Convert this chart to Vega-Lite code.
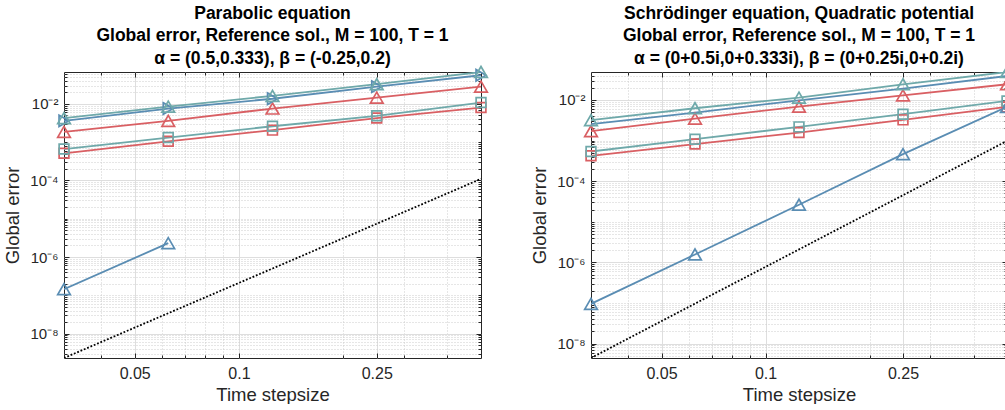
{
  "$schema": "https://vega.github.io/schema/vega-lite/v6.json",
  "padding": {"left": 2, "top": 4, "right": 0, "bottom": 0},
  "background": "white",
  "config": {
    "font": "Liberation Sans",
    "view": {"stroke": "#262626", "strokeWidth": 1},
    "axis": {"labelFont": "Liberation Sans", "titleFont": "Liberation Sans", "labelColor": "#262626", "titleColor": "#262626", "labelFontSize": 16, "titleFontSize": 18.5, "titleFontWeight": "normal", "domain": false, "tickColor": "#262626", "labelOverlap": false, "labelFlush": false},
    "title": {"font": "Liberation Sans", "fontSize": 17.5, "fontWeight": "bold", "color": "#000000", "lineHeight": 22.5, "anchor": "middle", "frame": "group", "offset": -4}
  },
  "datasets": {
    "left": [
      {"series": "redSq", "h": 0.03125, "err": 5.1e-4}, {"series": "redSq", "h": 0.0625, "err": 1.05e-3}, {"series": "redSq", "h": 0.125, "err": 2.06e-3}, {"series": "redSq", "h": 0.25, "err": 4.25e-3}, {"series": "redSq", "h": 0.5, "err": 8.0e-3},
      {"series": "tealSq", "h": 0.03125, "err": 6.6e-4}, {"series": "tealSq", "h": 0.0625, "err": 1.32e-3}, {"series": "tealSq", "h": 0.125, "err": 2.6e-3}, {"series": "tealSq", "h": 0.25, "err": 4.87e-3}, {"series": "tealSq", "h": 0.5, "err": 1.08e-2},
      {"series": "redTri", "h": 0.03125, "err": 1.86e-3}, {"series": "redTri", "h": 0.0625, "err": 3.6e-3}, {"series": "redTri", "h": 0.125, "err": 7.55e-3}, {"series": "redTri", "h": 0.25, "err": 1.46e-2}, {"series": "redTri", "h": 0.5, "err": 2.82e-2},
      {"series": "blueLow", "h": 0.03125, "err": 1.44e-7}, {"series": "blueLow", "h": 0.0625, "err": 2.3e-6},
      {"series": "blueTop", "h": 0.03125, "err": 3.6e-3}, {"series": "blueTop", "h": 0.0625, "err": 7.55e-3}, {"series": "blueTop", "h": 0.125, "err": 1.36e-2}, {"series": "blueTop", "h": 0.25, "err": 2.82e-2}, {"series": "blueTop", "h": 0.5, "err": 5.6e-2},
      {"series": "tealTri", "h": 0.03125, "err": 4.25e-3}, {"series": "tealTri", "h": 0.0625, "err": 8.5e-3}, {"series": "tealTri", "h": 0.125, "err": 1.62e-2}, {"series": "tealTri", "h": 0.25, "err": 3.26e-2}, {"series": "tealTri", "h": 0.5, "err": 6.8e-2},
      {"series": "ref", "h": 0.03125, "err": 2.3e-9}, {"series": "ref", "h": 0.0625, "err": 3.4e-8}, {"series": "ref", "h": 0.125, "err": 5.0e-7}, {"series": "ref", "h": 0.25, "err": 7.4e-6}, {"series": "ref", "h": 0.5, "err": 1.1e-4}
    ],
    "right": [
      {"series": "redSq", "h": 0.03125, "err": 4.2e-4}, {"series": "redSq", "h": 0.0625, "err": 8.2e-4}, {"series": "redSq", "h": 0.125, "err": 1.57e-3}, {"series": "redSq", "h": 0.25, "err": 3.23e-3}, {"series": "redSq", "h": 0.5, "err": 6.73e-3},
      {"series": "tealSq", "h": 0.03125, "err": 5.37e-4}, {"series": "tealSq", "h": 0.0625, "err": 1.08e-3}, {"series": "tealSq", "h": 0.125, "err": 2.17e-3}, {"series": "tealSq", "h": 0.25, "err": 4.46e-3}, {"series": "tealSq", "h": 0.5, "err": 9.45e-3},
      {"series": "redTri", "h": 0.03125, "err": 1.7e-3}, {"series": "redTri", "h": 0.0625, "err": 3.47e-3}, {"series": "redTri", "h": 0.125, "err": 6.85e-3}, {"series": "redTri", "h": 0.25, "err": 1.3e-2}, {"series": "redTri", "h": 0.5, "err": 2.43e-2},
      {"series": "blueLow", "h": 0.03125, "err": 9.5e-8}, {"series": "blueLow", "h": 0.0625, "err": 1.56e-6}, {"series": "blueLow", "h": 0.125, "err": 2.63e-5}, {"series": "blueLow", "h": 0.25, "err": 4.63e-4}, {"series": "blueLow", "h": 0.5, "err": 6.73e-3},
      {"series": "blueTop", "h": 0.03125, "err": 2.53e-3}, {"series": "blueTop", "h": 0.0625, "err": 4.87e-3}, {"series": "blueTop", "h": 0.125, "err": 9.8e-3}, {"series": "blueTop", "h": 0.25, "err": 1.9e-2}, {"series": "blueTop", "h": 0.5, "err": 3.89e-2},
      {"series": "tealTri", "h": 0.03125, "err": 3.17e-3}, {"series": "tealTri", "h": 0.0625, "err": 6.25e-3}, {"series": "tealTri", "h": 0.125, "err": 1.14e-2}, {"series": "tealTri", "h": 0.25, "err": 2.43e-2}, {"series": "tealTri", "h": 0.5, "err": 4.88e-2},
      {"series": "ref", "h": 0.03125, "err": 4.4e-9}, {"series": "ref", "h": 0.0625, "err": 9.6e-8}, {"series": "ref", "h": 0.125, "err": 2.08e-6}, {"series": "ref", "h": 0.25, "err": 4.5e-5}, {"series": "ref", "h": 0.5, "err": 9.8e-4}
    ]
  },
  "hconcat": [
    {
      "data": {"name": "left"},
      "width": 417, "height": 286,
      "title": {"text": ["Parabolic equation", "Global error, Reference sol., M = 100, T = 1", "α = (0.5,0.333), β = (-0.25,0.2)"]},
      "layer": [
        {
          "transform": [{"filter": "datum.series != 'ref'"}],
          "mark": {"type": "line", "strokeWidth": 1.8, "clip": true},
          "encoding": {
            "x": {"field": "h", "type": "quantitative", "scale": {"type": "log", "domain": [0.03125, 0.5], "nice": false},
              "axis": {"title": "Time stepsize", "values": [0.04, 0.05, 0.06, 0.07, 0.08, 0.09, 0.1, 0.2, 0.25, 0.3, 0.4],
                "labelExpr": "datum.value == 0.05 ? '0.05' : datum.value == 0.1 ? '0.1' : datum.value == 0.25 ? '0.25' : ''",
                "tickSize": {"condition": {"test": "datum.value == 0.05 || datum.value == 0.1 || datum.value == 0.25", "value": -5}, "value": -3},
                "labelPadding": 12, "titlePadding": 2,
                "gridColor": {"condition": {"test": "datum.value == 0.05 || datum.value == 0.1 || datum.value == 0.25", "value": "#dedede"}, "value": "#cccccc"},
                "gridDash": {"condition": {"test": "datum.value == 0.05 || datum.value == 0.1 || datum.value == 0.25", "value": []}, "value": [1, 2]}}},
            "y": {"field": "err", "type": "quantitative", "scale": {"type": "log", "domain": [2.3e-9, 6.8e-2], "nice": false},
              "axis": {"title": "Global error", "values": [3e-9, 4e-9, 5e-9, 6e-9, 7e-9, 8e-9, 9e-9, 1e-8, 2e-8, 3e-8, 4e-8, 5e-8, 6e-8, 7e-8, 8e-8, 9e-8, 1e-7, 2e-7, 3e-7, 4e-7, 5e-7, 6e-7, 7e-7, 8e-7, 9e-7, 1e-6, 2e-6, 3e-6, 4e-6, 5e-6, 6e-6, 7e-6, 8e-6, 9e-6, 1e-5, 2e-5, 3e-5, 4e-5, 5e-5, 6e-5, 7e-5, 8e-5, 9e-5, 1e-4, 2e-4, 3e-4, 4e-4, 5e-4, 6e-4, 7e-4, 8e-4, 9e-4, 1e-3, 2e-3, 3e-3, 4e-3, 5e-3, 6e-3, 7e-3, 8e-3, 9e-3, 1e-2, 2e-2, 3e-2, 4e-2, 5e-2, 6e-2],
                "labelExpr": "datum.value == 1e-2 ? '10⁻²' : datum.value == 1e-4 ? '10⁻⁴' : datum.value == 1e-6 ? '10⁻⁶' : datum.value == 1e-8 ? '10⁻⁸' : ''",
                "labelFontSize": 15,
                "tickSize": {"condition": {"test": "datum.value == 1e-2 || datum.value == 1e-4 || datum.value == 1e-6 || datum.value == 1e-8", "value": -5}, "value": -3},
                "labelPadding": 11, "titleX": -42,
                "gridColor": {"condition": {"test": "datum.value == 1e-2 || datum.value == 1e-4 || datum.value == 1e-6 || datum.value == 1e-8", "value": "#dedede"}, "value": "#cccccc"},
                "gridDash": {"condition": {"test": "datum.value == 1e-2 || datum.value == 1e-4 || datum.value == 1e-6 || datum.value == 1e-8", "value": []}, "value": [1, 2]}}},
            "color": {"field": "series", "type": "nominal", "legend": null,
              "scale": {"domain": ["redSq", "tealSq", "redTri", "blueLow", "blueTop", "tealTri"], "range": ["#d95f63", "#6fa9aa", "#d95f63", "#5a8db3", "#5a8db3", "#6fa9aa"]}}
          }
        },
        {
          "transform": [{"filter": "datum.series != 'ref'"}],
          "mark": {"type": "point", "filled": false, "strokeWidth": 1.7, "opacity": 1, "clip": false},
          "encoding": {
            "x": {"field": "h", "type": "quantitative", "scale": {"type": "log", "domain": [0.03125, 0.5], "nice": false}, "axis": null},
            "y": {"field": "err", "type": "quantitative", "scale": {"type": "log", "domain": [2.3e-9, 6.8e-2], "nice": false}, "axis": null},
            "color": {"field": "series", "type": "nominal", "legend": null,
              "scale": {"domain": ["redSq", "tealSq", "redTri", "blueLow", "blueTop", "tealTri"], "range": ["#d95f63", "#6fa9aa", "#d95f63", "#5a8db3", "#5a8db3", "#6fa9aa"]}},
            "shape": {"field": "series", "type": "nominal", "legend": null,
              "scale": {"domain": ["redSq", "tealSq", "redTri", "blueLow", "blueTop", "tealTri"], "range": ["square", "square", "triangle-up", "triangle-up", "triangle-right", "triangle-up"]}},
            "size": {"field": "series", "type": "nominal", "legend": null,
              "scale": {"type": "ordinal", "domain": ["redSq", "tealSq", "redTri", "blueLow", "blueTop", "tealTri"], "range": [95, 95, 160, 160, 130, 160]}}
          }
        },
        {
          "transform": [{"filter": "datum.series == 'ref'"}],
          "mark": {"type": "line", "color": "#000000", "strokeWidth": 1.8, "strokeDash": [1.8, 1.8], "clip": true},
          "encoding": {
            "x": {"field": "h", "type": "quantitative", "scale": {"type": "log", "domain": [0.03125, 0.5], "nice": false},
              "axis": {"orient": "top", "title": null, "labels": false, "grid": false, "values": [0.04, 0.05, 0.06, 0.07, 0.08, 0.09, 0.1, 0.2, 0.25, 0.3, 0.4],
                "tickSize": {"condition": {"test": "datum.value == 0.05 || datum.value == 0.1 || datum.value == 0.25", "value": -5}, "value": -3}}},
            "y": {"field": "err", "type": "quantitative", "scale": {"type": "log", "domain": [2.3e-9, 6.8e-2], "nice": false},
              "axis": {"orient": "right", "title": null, "labels": false, "grid": false, "values": [3e-9, 4e-9, 5e-9, 6e-9, 7e-9, 8e-9, 9e-9, 1e-8, 2e-8, 3e-8, 4e-8, 5e-8, 6e-8, 7e-8, 8e-8, 9e-8, 1e-7, 2e-7, 3e-7, 4e-7, 5e-7, 6e-7, 7e-7, 8e-7, 9e-7, 1e-6, 2e-6, 3e-6, 4e-6, 5e-6, 6e-6, 7e-6, 8e-6, 9e-6, 1e-5, 2e-5, 3e-5, 4e-5, 5e-5, 6e-5, 7e-5, 8e-5, 9e-5, 1e-4, 2e-4, 3e-4, 4e-4, 5e-4, 6e-4, 7e-4, 8e-4, 9e-4, 1e-3, 2e-3, 3e-3, 4e-3, 5e-3, 6e-3, 7e-3, 8e-3, 9e-3, 1e-2, 2e-2, 3e-2, 4e-2, 5e-2, 6e-2],
                "tickSize": {"condition": {"test": "datum.value == 1e-2 || datum.value == 1e-4 || datum.value == 1e-6 || datum.value == 1e-8", "value": -5}, "value": -3}}}
          }
        }
      ],
      "resolve": {"axis": {"x": "independent", "y": "independent"}}
    },
    {
      "data": {"name": "right"},
      "width": 416, "height": 286,
      "title": {"text": ["Schrödinger equation, Quadratic potential", "Global error, Reference sol., M = 100, T = 1", "α = (0+0.5i,0+0.333i), β = (0+0.25i,0+0.2i)"]},
      "layer": [
        {
          "transform": [{"filter": "datum.series != 'ref'"}],
          "mark": {"type": "line", "strokeWidth": 1.8, "clip": true},
          "encoding": {
            "x": {"field": "h", "type": "quantitative", "scale": {"type": "log", "domain": [0.03125, 0.5], "nice": false},
              "axis": {"title": "Time stepsize", "values": [0.04, 0.05, 0.06, 0.07, 0.08, 0.09, 0.1, 0.2, 0.25, 0.3, 0.4],
                "labelExpr": "datum.value == 0.05 ? '0.05' : datum.value == 0.1 ? '0.1' : datum.value == 0.25 ? '0.25' : ''",
                "tickSize": {"condition": {"test": "datum.value == 0.05 || datum.value == 0.1 || datum.value == 0.25", "value": -5}, "value": -3},
                "labelPadding": 12, "titlePadding": 2,
                "gridColor": {"condition": {"test": "datum.value == 0.05 || datum.value == 0.1 || datum.value == 0.25", "value": "#dedede"}, "value": "#cccccc"},
                "gridDash": {"condition": {"test": "datum.value == 0.05 || datum.value == 0.1 || datum.value == 0.25", "value": []}, "value": [1, 2]}}},
            "y": {"field": "err", "type": "quantitative", "scale": {"type": "log", "domain": [4.4e-9, 4.88e-2], "nice": false},
              "axis": {"title": "Global error", "values": [5e-9, 6e-9, 7e-9, 8e-9, 9e-9, 1e-8, 2e-8, 3e-8, 4e-8, 5e-8, 6e-8, 7e-8, 8e-8, 9e-8, 1e-7, 2e-7, 3e-7, 4e-7, 5e-7, 6e-7, 7e-7, 8e-7, 9e-7, 1e-6, 2e-6, 3e-6, 4e-6, 5e-6, 6e-6, 7e-6, 8e-6, 9e-6, 1e-5, 2e-5, 3e-5, 4e-5, 5e-5, 6e-5, 7e-5, 8e-5, 9e-5, 1e-4, 2e-4, 3e-4, 4e-4, 5e-4, 6e-4, 7e-4, 8e-4, 9e-4, 1e-3, 2e-3, 3e-3, 4e-3, 5e-3, 6e-3, 7e-3, 8e-3, 9e-3, 1e-2, 2e-2, 3e-2, 4e-2],
                "labelExpr": "datum.value == 1e-2 ? '10⁻²' : datum.value == 1e-4 ? '10⁻⁴' : datum.value == 1e-6 ? '10⁻⁶' : datum.value == 1e-8 ? '10⁻⁸' : ''",
                "labelFontSize": 15,
                "tickSize": {"condition": {"test": "datum.value == 1e-2 || datum.value == 1e-4 || datum.value == 1e-6 || datum.value == 1e-8", "value": -5}, "value": -3},
                "labelPadding": 11, "titleX": -42,
                "gridColor": {"condition": {"test": "datum.value == 1e-2 || datum.value == 1e-4 || datum.value == 1e-6 || datum.value == 1e-8", "value": "#dedede"}, "value": "#cccccc"},
                "gridDash": {"condition": {"test": "datum.value == 1e-2 || datum.value == 1e-4 || datum.value == 1e-6 || datum.value == 1e-8", "value": []}, "value": [1, 2]}}},
            "color": {"field": "series", "type": "nominal", "legend": null,
              "scale": {"domain": ["redSq", "tealSq", "redTri", "blueLow", "blueTop", "tealTri"], "range": ["#d95f63", "#6fa9aa", "#d95f63", "#5a8db3", "#5a8db3", "#6fa9aa"]}}
          }
        },
        {
          "transform": [{"filter": "datum.series != 'ref' && datum.series != 'blueTop'"}],
          "mark": {"type": "point", "filled": false, "strokeWidth": 1.7, "opacity": 1, "clip": false},
          "encoding": {
            "x": {"field": "h", "type": "quantitative", "scale": {"type": "log", "domain": [0.03125, 0.5], "nice": false}, "axis": null},
            "y": {"field": "err", "type": "quantitative", "scale": {"type": "log", "domain": [4.4e-9, 4.88e-2], "nice": false}, "axis": null},
            "color": {"field": "series", "type": "nominal", "legend": null,
              "scale": {"domain": ["redSq", "tealSq", "redTri", "blueLow", "blueTop", "tealTri"], "range": ["#d95f63", "#6fa9aa", "#d95f63", "#5a8db3", "#5a8db3", "#6fa9aa"]}},
            "shape": {"field": "series", "type": "nominal", "legend": null,
              "scale": {"domain": ["redSq", "tealSq", "redTri", "blueLow", "blueTop", "tealTri"], "range": ["square", "square", "triangle-up", "triangle-up", "triangle-right", "triangle-up"]}},
            "size": {"field": "series", "type": "nominal", "legend": null,
              "scale": {"type": "ordinal", "domain": ["redSq", "tealSq", "redTri", "blueLow", "blueTop", "tealTri"], "range": [95, 95, 160, 160, 130, 160]}}
          }
        },
        {
          "transform": [{"filter": "datum.series == 'ref'"}],
          "mark": {"type": "line", "color": "#000000", "strokeWidth": 1.8, "strokeDash": [1.8, 1.8], "clip": true},
          "encoding": {
            "x": {"field": "h", "type": "quantitative", "scale": {"type": "log", "domain": [0.03125, 0.5], "nice": false},
              "axis": {"orient": "top", "title": null, "labels": false, "grid": false, "values": [0.04, 0.05, 0.06, 0.07, 0.08, 0.09, 0.1, 0.2, 0.25, 0.3, 0.4],
                "tickSize": {"condition": {"test": "datum.value == 0.05 || datum.value == 0.1 || datum.value == 0.25", "value": -5}, "value": -3}}},
            "y": {"field": "err", "type": "quantitative", "scale": {"type": "log", "domain": [4.4e-9, 4.88e-2], "nice": false},
              "axis": {"orient": "right", "title": null, "labels": false, "grid": false, "values": [5e-9, 6e-9, 7e-9, 8e-9, 9e-9, 1e-8, 2e-8, 3e-8, 4e-8, 5e-8, 6e-8, 7e-8, 8e-8, 9e-8, 1e-7, 2e-7, 3e-7, 4e-7, 5e-7, 6e-7, 7e-7, 8e-7, 9e-7, 1e-6, 2e-6, 3e-6, 4e-6, 5e-6, 6e-6, 7e-6, 8e-6, 9e-6, 1e-5, 2e-5, 3e-5, 4e-5, 5e-5, 6e-5, 7e-5, 8e-5, 9e-5, 1e-4, 2e-4, 3e-4, 4e-4, 5e-4, 6e-4, 7e-4, 8e-4, 9e-4, 1e-3, 2e-3, 3e-3, 4e-3, 5e-3, 6e-3, 7e-3, 8e-3, 9e-3, 1e-2, 2e-2, 3e-2, 4e-2],
                "tickSize": {"condition": {"test": "datum.value == 1e-2 || datum.value == 1e-4 || datum.value == 1e-6 || datum.value == 1e-8", "value": -5}, "value": -3}}}
          }
        }
      ],
      "resolve": {"axis": {"x": "independent", "y": "independent"}}
    }
  ],
  "spacing": 37
}
